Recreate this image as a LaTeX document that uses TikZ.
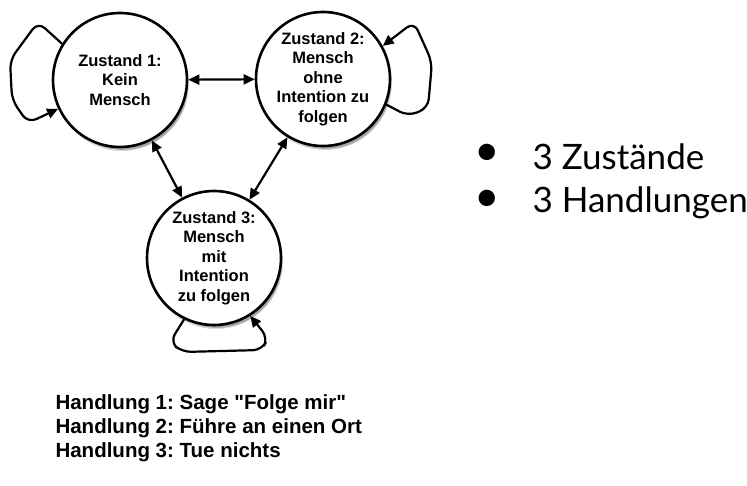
\documentclass[tikz,border=0pt]{standalone}
\usepackage{fontspec}
\newfontfamily\helv{Liberation Sans}
\newfontfamily\listfont{Lato}
\usetikzlibrary{arrows.meta,shadows}
\frenchspacing

\tikzset{
  state/.style={circle, draw, line width=2.6pt, fill=white, minimum size=134pt, inner sep=0pt,
    align=center, font=\fontsize{16.5}{19.5}\selectfont\helv\bfseries,
    drop shadow={shadow xshift=2pt, shadow yshift=-4pt, fill=black!30, draw=none},
    drop shadow={shadow xshift=3pt, shadow yshift=-5pt, shadow scale=0.97, fill=black!55, draw=none}},
  link/.style={line width=2.2pt, {Triangle[length=11pt,width=10pt]}-{Triangle[length=11pt,width=10pt]}},
  selfloop/.style={line width=2.2pt, rounded corners=9pt, -{Triangle[length=11pt,width=10pt]}},
  bullet/.style={font=\fontsize{44}{44}\selectfont\listfont},
  item/.style={anchor=west, font=\fontsize{35}{35}\selectfont\listfont},
  legend/.style={anchor=north west, align=left, font=\fontsize{20.5}{24}\selectfont\helv\bfseries}
}

\begin{document}
\begin{tikzpicture}[x=1pt, y=-1pt]
    \useasboundingbox (0,0) rectangle (747,486);

    \node[state] (z1) at (120,80) {Zustand 1:\\Kein\\Mensch};
    \node[state] (z2) at (323,79) {Zustand 2:\\Mensch\\ohne\\Intention zu\\folgen};
    \node[state] (z3) at (214,258) {Zustand 3:\\Mensch\\mit\\Intention\\zu folgen};

    \draw[link] (z1) -- (z2);
    \draw[link] (z1) -- (z3);
    \draw[link] (z2) -- (z3);

    % self loops
    \draw[selfloop] (z1.148) -- (38,22) -- (10,60) -- (12,100) -- (28,123) -- (z1.205);
    \draw[selfloop] (z2.-22) -- (408,116) -- (428,108) -- (432,62) -- (414,22) -- (z2.29);
    \draw[selfloop] (z3.-116) -- (170,342) -- (182,352) -- (262,350) -- (268,338) -- (z3.-58);

    \node[bullet] (b1) at (487,155) {•};
    \node[item] (i1) at (529,157) {3 Zustände};
    \node[bullet] (b2) at (487,201) {•};
    \node[item] (i2) at (529,203) {3 Handlungen};

    \node[legend] (acts) at (52,391) {Handlung 1: Sage "Folge mir"\\Handlung 2: Führe an einen Ort\\Handlung 3: Tue nichts};
\end{tikzpicture}
\end{document}
